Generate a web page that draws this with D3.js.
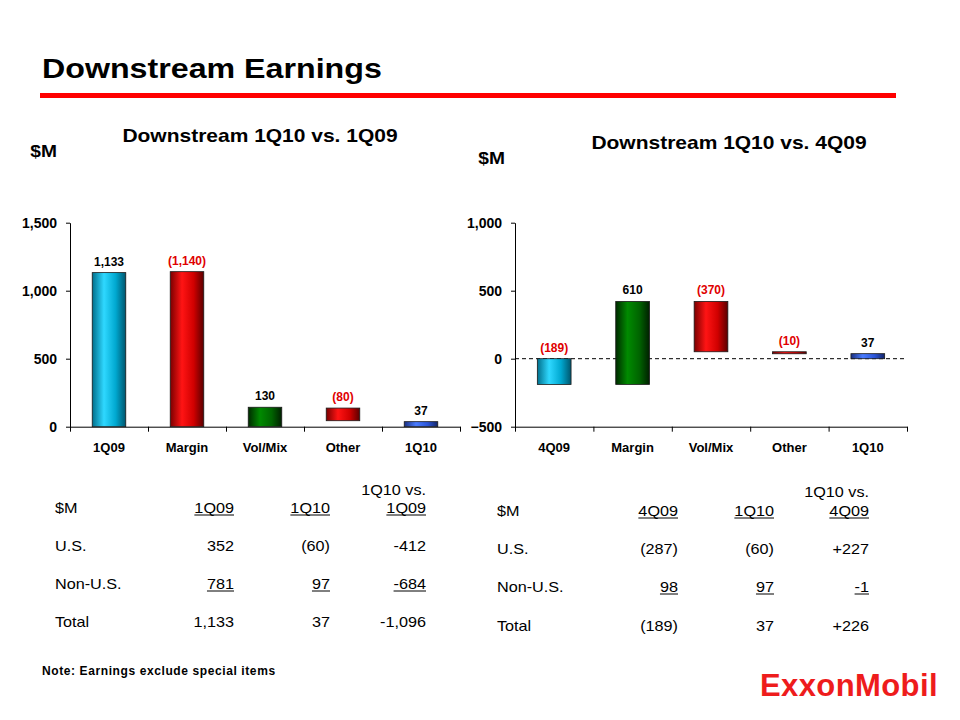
<!DOCTYPE html>
<html><head><meta charset="utf-8">
<script src="https://cdn.jsdelivr.net/npm/d3@7"></script>
<style>body{margin:0;background:#fff}svg{display:block}text{font-family:Arial,"Liberation Sans",sans-serif}</style>
</head><body>
<script>
// ---- data ----
const leftCategories = ["1Q09","Margin","Vol/Mix","Other","1Q10"];
const leftLabels = ["1,133","(1,140)","130","(80)","37"];
const leftLow  = [0, 0, 0, 44, 0];
const leftHigh = [1133, 1140, 143, 137, 37];
const leftColors = ["cyan","red","green","red","blue"];
const leftTicks = [0, 500, 1000, 1500];

const rightCategories = ["4Q09","Margin","Vol/Mix","Other","1Q10"];
const rightLabels = ["(189)","610","(370)","(10)","37"];
const rightLow  = [-189, -189, 51, 41, 0];
const rightHigh = [0, 421, 421, 51, 37];
const rightColors = ["cyan","green","red","red","blue"];
const rightTicks = [-500, 0, 500, 1000];

const leftTableHeader = ["1Q09","1Q10","1Q09"];
const leftRows = ["U.S.","Non-U.S.","Total"];
const leftCol1 = ["352","781","1,133"];
const leftCol2 = ["(60)","97","37"];
const leftCol3 = ["-412","-684","-1,096"];

const rightTableHeader = ["4Q09","1Q10","4Q09"];
const rightRows = ["U.S.","Non-U.S.","Total"];
const rightCol1 = ["(287)","98","(189)"];
const rightCol2 = ["(60)","97","37"];
const rightCol3 = ["+227","-1","+226"];

// ---- drawing ----
const svg = d3.select("body").append("svg").attr("width",960).attr("height",720);
const defs = svg.append("defs");
const grads = {
  cyan: ["#006f8c","#2fd8ff","#00a8d0","#00566e"],
  red: ["#7a0000","#ff1414","#d00000","#5a0000"],
  green: ["#002a00","#008a00","#006400","#002000"],
  blue: ["#1a2f80","#4a7cff","#2b55d8","#142566"]
};
Object.entries(grads).forEach(([k,c])=>{
  const g = defs.append("linearGradient").attr("id","g-"+k).attr("x1","0").attr("x2","1").attr("y1","0").attr("y2","0");
  g.append("stop").attr("offset","0%").attr("stop-color",c[0]);
  g.append("stop").attr("offset","35%").attr("stop-color",c[1]);
  g.append("stop").attr("offset","70%").attr("stop-color",c[2]);
  g.append("stop").attr("offset","100%").attr("stop-color",c[3]);
});

function stext(x,y,sx,size,anchor,str){
  return svg.append("text").attr("transform",`translate(${x},${y}) scale(${sx},1)`)
    .attr("text-anchor",anchor).attr("font-size",size).attr("font-weight","bold").text(str);
}

// title
stext(42,78,1.15,28,"start","Downstream Earnings");
svg.append("rect").attr("x",40).attr("y",93).attr("width",856).attr("height",5).attr("fill","#ff0000");

function chart(cfg){
  const {x0,x1,domain,ticks,cats,labels,low,high,colors,dashedZero} = cfg;
  const yTop = 222.7, yBot = 426.7;
  const y = d3.scaleLinear().domain(domain).range([yBot,yTop]);
  const xb = d3.scaleBand().domain(cats).range([x0,x1]).padding(0);
  const xe = d3.scaleLinear().domain([0,cats.length]).range([x0,x1]);
  const g = svg.append("g");
  const ya = g.append("g").attr("transform",`translate(${x0},0)`)
    .call(d3.axisLeft(y).tickValues(ticks).tickFormat(d3.format(",")).tickSizeInner(4).tickSizeOuter(0).tickPadding(9));
  ya.selectAll("text").attr("font-size",14).attr("font-weight","bold").attr("fill","#000").style("font-family","Arial, 'Liberation Sans', sans-serif");
  ya.select(".domain").attr("stroke","#000");
  ya.selectAll(".tick line").attr("stroke","#000");
  const xa = g.append("g").attr("transform",`translate(0,${yBot})`)
    .call(d3.axisBottom(xe).tickValues(d3.range(cats.length+1)).tickFormat("").tickSizeInner(5).tickSizeOuter(0));
  xa.select(".domain").attr("stroke","#000");
  xa.selectAll(".tick line").attr("stroke","#000");
  g.selectAll(".cat").data(cats).join("text")
    .attr("x",d=>xb(d)+xb.bandwidth()/2).attr("y",452)
    .attr("text-anchor","middle").attr("font-size",13).attr("font-weight","bold").text(d=>d);
  if(dashedZero){
    g.append("line").attr("x1",x0).attr("x2",x1).attr("y1",y(0)).attr("y2",y(0))
      .attr("stroke","#000").attr("stroke-dasharray","4,3");
  }
  const bw = xb.bandwidth()*0.43;
  g.selectAll(".bar").data(cats).join("rect")
    .attr("x",d=>xb(d)+xb.bandwidth()/2-bw/2)
    .attr("y",(d,i)=>y(Math.max(low[i],high[i])))
    .attr("width",bw)
    .attr("height",(d,i)=>Math.max(2,Math.abs(y(low[i])-y(high[i]))))
    .attr("fill",(d,i)=>`url(#g-${colors[i]})`)
    .attr("stroke","#1a1a1a").attr("stroke-width",0.8);
  g.selectAll(".val").data(cats).join("text")
    .attr("x",d=>xb(d)+xb.bandwidth()/2)
    .attr("y",(d,i)=>y(Math.max(low[i],high[i]))-7)
    .attr("text-anchor","middle").attr("font-size",12).attr("font-weight","bold")
    .attr("fill",(d,i)=>labels[i].startsWith("(")?"#e00000":"#000")
    .text((d,i)=>labels[i]);
}

stext(260,142,1.2,17.5,"middle","Downstream 1Q10 vs. 1Q09");
stext(57,157,1.2,16,"end","$M");
stext(729,149,1.2,17.5,"middle","Downstream 1Q10 vs. 4Q09");
stext(505,164,1.2,16,"end","$M");

chart({x0:70,x1:460,domain:[0,1500],ticks:leftTicks,cats:leftCategories,labels:leftLabels,low:leftLow,high:leftHigh,colors:leftColors,dashedZero:false});
chart({x0:515,x1:907,domain:[-500,1000],ticks:rightTicks,cats:rightCategories,labels:rightLabels,low:rightLow,high:rightHigh,colors:rightColors,dashedZero:true});

const TF = 15, SX = 1.08;
function ttext(g,x,y,str,anchor){
  return g.append("text").attr("transform",`translate(${x},${y}) scale(${SX},1)`).attr("text-anchor",anchor).attr("font-size",TF).text(str);
}
function utext(g,x,y,str,underline){
  const t = ttext(g,x,y,str,"end");
  if(underline){
    const w = t.node().getComputedTextLength()*SX;
    g.append("line").attr("x1",x-w).attr("x2",x).attr("y1",y+2).attr("y2",y+2).attr("stroke","#000").attr("stroke-width",1);
  }
}
function table(cfg){
  const {xl,cols,yVs,yHead,rowsY,header,rows,c1,c2,c3} = cfg;
  const g = svg.append("g");
  ttext(g,cols[2],yVs,"1Q10 vs.","end");
  ttext(g,xl,yHead,"$M","start");
  header.forEach((h,i)=>utext(g,cols[i],yHead,h,true));
  rows.forEach((r,i)=>{
    ttext(g,xl,rowsY[i],r,"start");
    [c1,c2,c3].forEach((c,j)=>utext(g,cols[j],rowsY[i],c[i],i===1));
  });
}
table({xl:55,cols:[234,330,426],yVs:495,yHead:513,rowsY:[551,589,627],header:leftTableHeader,rows:leftRows,c1:leftCol1,c2:leftCol2,c3:leftCol3});
table({xl:497,cols:[678,774,869],yVs:497,yHead:516,rowsY:[554,592,631],header:rightTableHeader,rows:rightRows,c1:rightCol1,c2:rightCol2,c3:rightCol3});

svg.append("text").attr("x",42).attr("y",675).attr("font-size",12).attr("font-weight","bold").attr("letter-spacing",0.6).text("Note:  Earnings exclude special items");
svg.append("text").attr("x",760).attr("y",696).attr("font-size",31).attr("font-weight","bold").attr("fill","#ee1c1c").attr("letter-spacing",0.4).text("ExxonMobil");
</script>
</body></html>
